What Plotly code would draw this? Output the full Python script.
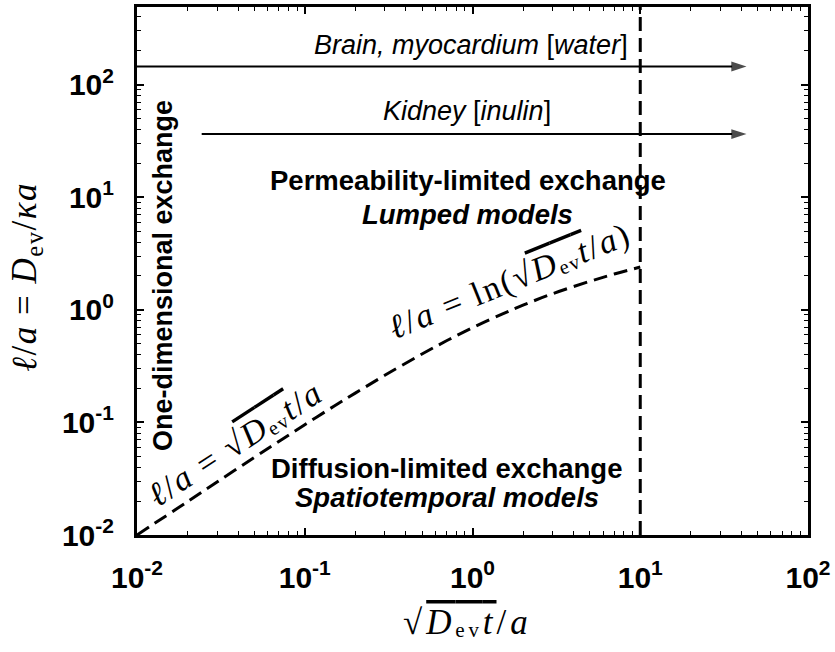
import numpy as np
import plotly.graph_objects as go

# Exchange-length boundary curve: l/a versus sqrt(D_ev t)/a
curve_x = [0.01, 0.02, 0.03, 0.05, 0.07, 0.1, 0.15, 0.2, 0.3, 0.5, 0.7, 1.0, 1.5, 2.0, 3.0, 5.0, 7.0, 10.0]
curve_y = [0.0100, 0.0198, 0.0296, 0.0488, 0.0677, 0.0953, 0.140, 0.182, 0.262, 0.405, 0.531, 0.693,
           0.916, 1.10, 1.39, 1.79, 2.08, 2.40]

# Lumped / spatiotemporal boundary
boundary_x = [10.0, 10.0]
boundary_y = [0.01, 490.0]

# Tissue ranges (horizontal arrows)
brain_x = [0.01, 43.0]
brain_y = [145.0, 145.0]
kidney_x = [0.0243, 43.0]
kidney_y = [36.4, 36.4]

major_vals = [0.01, 0.1, 1, 10, 100]
major_text = ["10<sup>-2</sup>", "10<sup>-1</sup>", "10<sup>0</sup>", "10<sup>1</sup>", "10<sup>2</sup>"]

X_RANGE = [-2, 2]
Y_RANGE = [-2, 2.69]

SANS = "Liberation Sans, Arial, sans-serif"
SERIF = "Liberation Serif, DejaVu Serif, Times New Roman, serif"

minor_vals = [m * 10.0 ** k for k in range(-2, 3) for m in range(2, 10)]

fig = go.Figure()

fig.add_trace(go.Scatter(
    x=curve_x, y=curve_y, mode="lines", line_shape="spline",
    line=dict(color="black", width=3, dash="14px,7px"), hoverinfo="skip"))

fig.add_trace(go.Scatter(
    x=boundary_x, y=boundary_y, mode="lines",
    line=dict(color="black", width=3, dash="14px,7px"), hoverinfo="skip"))

for xs, ys in [(brain_x, brain_y), (kidney_x, kidney_y)]:
    fig.add_trace(go.Scatter(
        x=xs, y=ys, mode="lines+markers",
        line=dict(color="black", width=2),
        marker=dict(symbol=["circle", "arrow"], size=[0, 16], color="black",
                    angleref="previous", line=dict(width=0)),
        hoverinfo="skip"))

axis_common = dict(
    type="log", showgrid=False, zeroline=False,
    showline=True, linecolor="black", linewidth=3, mirror="allticks",
    ticks="inside", ticklen=7, tickwidth=1.5, tickcolor="black",
    tickvals=major_vals, ticktext=major_text,
    tickfont=dict(family=SANS, size=30, color="black", weight="bold"),
    minor=dict(ticks="inside", ticklen=4, tickwidth=1, tickcolor="black", tickvals=minor_vals),
    ticklabelstandoff=14,
)

fig.update_xaxes(range=X_RANGE, **axis_common)
fig.update_yaxes(range=Y_RANGE, **axis_common)

lg = np.log10
annotations = []


def txt(x, y, text, size=27, family=SANS, angle=0, xref="x", yref="y"):
    annotations.append(dict(
        x=x, y=y, xref=xref, yref=yref, text=text, showarrow=False,
        font=dict(family=family, size=size, color="black"),
        textangle=angle, xanchor="center", yanchor="middle"))


def spaced(text, px):
    return "<span style='letter-spacing:%spx'>%s</span>" % (px, text)


# Tissue labels
txt(lg(0.98), lg(225), "<i>Brain, myocardium</i> [<i>water</i>]", size=27)
txt(lg(0.93), lg(58), "<i>Kidney</i> [<i>inulin</i>]", size=27)

# Regime labels
txt(lg(0.94), lg(14.2), "<b>Permeability-limited exchange</b>", size=27.5)
txt(lg(0.94), lg(7.0), "<b><i>Lumped models</i></b>", size=27.5)
txt(lg(0.70), lg(0.0388), "<b>Diffusion-limited exchange</b>", size=27.5)
txt(lg(0.70), lg(0.0216), "<b><i>Spatiotemporal models</i></b>", size=27.5)
txt(lg(0.0143), lg(2.0), "<b>One-dimensional exchange</b>", angle=-90)

# Radicand with a continuous vinculum (unicode subscripts keep one baseline)
ov = "<span style='text-decoration:overline'><i>D</i>ₑᵥ<i>t</i></span>"

# Curve formulas
txt(lg(1.67), lg(1.80), spaced("<i>ℓ</i>/<i>a</i> = ln(√" + ov + "/<i>a</i>)", 2), size=34,
    family=SERIF, angle=-22)
txt(lg(0.0385), lg(0.0650), spaced("<i>ℓ</i>/<i>a</i> = √" + ov + "/<i>a</i>", 2), size=34,
    family=SERIF, angle=-33)

# Axis titles
txt(0.493, -0.166, spaced("√" + ov + "/<i>a</i>", 4), size=35, family=SERIF, xref="paper", yref="paper")
txt(-0.165, 0.49, spaced("<i>ℓ</i>/<i>a</i> = <i>D</i><sub>ev</sub>/<i>κa</i>", 1.5), size=35, family=SERIF,
    angle=-90, xref="paper", yref="paper")

fig.update_layout(
    width=835, height=652,
    margin=dict(l=137, r=25, t=4, b=117),
    paper_bgcolor="white", plot_bgcolor="white",
    showlegend=False,
    annotations=annotations,
)

fig.write_html("out.html")
